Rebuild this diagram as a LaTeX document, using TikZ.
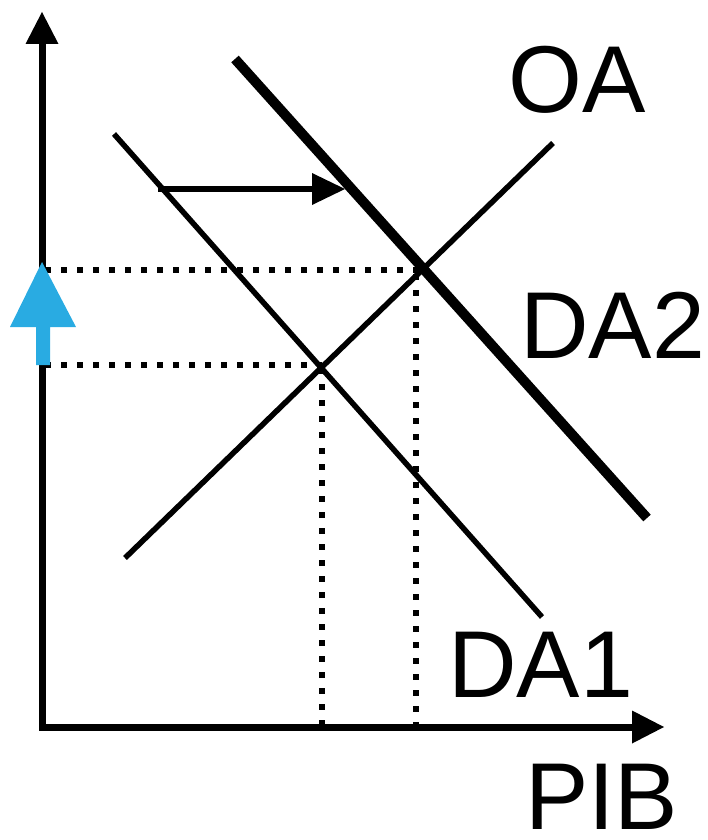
\documentclass[tikz,border=0pt]{standalone}
\usepackage{fontspec}
\setmainfont{Liberation Sans}
\begin{document}
\begin{tikzpicture}[x=1pt,y=-1pt,
  curve/.style={line width=5.5pt},
  thickcurve/.style={line width=10pt},
  guide/.style={line width=6pt,dash pattern=on 6pt off 10pt},
  axis/.style={line width=7pt},
  lbl/.style={anchor=base west,inner sep=0pt,text depth=0pt,font=\fontsize{95}{100}\selectfont}]
\useasboundingbox (0,0) rectangle (707,840);
% guides
\draw[guide] (45,270) -- (420,270);
\draw[guide] (45,365) -- (322,365);
\draw[guide] (322,368) -- (322,725);
\draw[guide] (416,274) -- (416,725);
% curves
\draw[curve] (125,558) -- (553,143);
\draw[curve] (114,134) -- (542,617);
\draw[thickcurve] (235,59) -- (647,518);
% shift arrow
\draw[curve] (158,189) -- (314,189);
\fill (345,189) -- (312,173) -- (312,205) -- cycle;
% axes
\draw[axis] (42,44) -- (42,727) -- (634,727);
\fill (42,12) -- (25.5,44) -- (58.5,44) -- cycle;
\fill (664,727) -- (632,710.5) -- (632,743.5) -- cycle;
% blue arrow
\fill[color={rgb,255:red,41;green,171;blue,226}] (42,262) -- (76,327) -- (50,327) -- (50,365) -- (36,365) -- (36,327) -- (10,327) -- cycle;
% labels
\node[lbl] (oa) at (508,113) {OA};
\node[lbl] (da2) at (520,358) {DA2};
\node[lbl] (da1) at (448,697) {DA1};
\node[lbl] (pib) at (525,829) {PIB};
\end{tikzpicture}
\end{document}
